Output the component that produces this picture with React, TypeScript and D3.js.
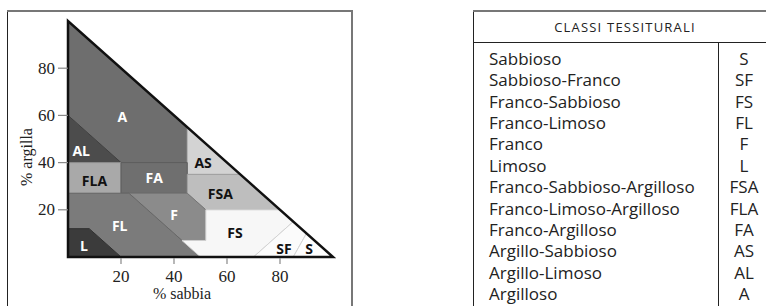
import React from 'react';
import * as d3 from 'd3';

// soil texture regions, vertices as [sand %, clay %]
const regionCodes = ['A', 'AL', 'AS', 'FLA', 'FA', 'FSA', 'F', 'FL', 'L', 'FS', 'SF', 'S'];
const regionPolygons: [number, number][][] = [
  [[0, 60], [20, 40], [45, 40], [45, 55], [0, 100]],
  [[0, 40], [20, 40], [0, 60]],
  [[45, 35], [45, 55], [65, 35]],
  [[0, 27], [20, 27], [20, 40], [0, 40]],
  [[20, 27], [45, 27], [45, 40], [20, 40]],
  [[45, 35], [65, 35], [80, 20], [52, 20], [45, 27]],
  [[23, 27], [45, 27], [52, 20], [52, 7], [43, 7]],
  [[0, 12], [8, 12], [20, 0], [50, 0], [23, 27], [0, 27]],
  [[0, 0], [20, 0], [8, 12], [0, 12]],
  [[50, 0], [70, 0], [85, 15], [80, 20], [52, 20], [52, 7], [43, 7]],
  [[70, 0], [85, 0], [90, 10], [85, 15]],
  [[85, 0], [100, 0], [90, 10]],
];
const regionFills = ['#6e6e6e', '#4c4c4c', '#d3d3d3', '#a9a9a9', '#6f6f6f', '#bebebe', '#8b8b8b', '#7b7b7b', '#3b3b3b', '#f7f7f7', '#fbfbfb', '#fefefe'];
const labelPositions: [number, number][] = [
  [20.5, 59.5], [5, 45], [51, 40], [10, 32.5], [32.5, 33.5], [57.5, 27],
  [40, 18], [19.5, 13.5], [6, 5], [63, 10.5], [81.5, 3.5], [91, 3.5],
];
const labelDark = [false, false, true, true, false, true, false, false, false, true, true, true];

const sandTicks = [20, 40, 60, 80];
const clayTicks = [20, 40, 60, 80];

// legend table
const classNames = [
  'Sabbioso', 'Sabbioso-Franco', 'Franco-Sabbioso', 'Franco-Limoso', 'Franco', 'Limoso',
  'Franco-Sabbioso-Argilloso', 'Franco-Limoso-Argilloso', 'Franco-Argilloso',
  'Argillo-Sabbioso', 'Argillo-Limoso', 'Argilloso',
];
const classCodes = ['S', 'SF', 'FS', 'FL', 'F', 'L', 'FSA', 'FLA', 'FA', 'AS', 'AL', 'A'];

const serif = '"Liberation Serif", serif';
const sans = '"Open Sans", sans-serif';

export default function App() {
  const width = 766;
  const height = 306;

  const x = d3.scaleLinear().domain([0, 100]).range([68, 333]);
  const y = d3.scaleLinear().domain([0, 100]).range([257, 21]);
  const line = d3.line<[number, number]>().x(d => x(d[0])).y(d => y(d[1]));

  const outline: [number, number][] = [[0, 100], [0, 0], [100, 0]];

  // row baselines of the legend table
  const rowY = d3.scalePoint<number>().domain(d3.range(classNames.length)).range([65, 300]);

  return (
    <svg width={width} height={height} style={{ position: 'absolute', left: 0, top: 0, background: '#fff' }}>
      {/* left frame */}
      <line x1={7.5} y1={10} x2={7.5} y2={height} stroke="#222" strokeWidth={1} />
      <line x1={352} y1={10} x2={352} y2={height} stroke="#777" strokeWidth={2} />
      <line x1={7} y1={11} x2={353} y2={11} stroke="#777" strokeWidth={2} />

      {regionPolygons.map((pts, i) => (
        <path key={regionCodes[i]} d={line(pts) + 'Z'} fill={regionFills[i]}
          stroke={d3.color(regionFills[i])!.darker(0.5).toString()} strokeWidth={1} strokeLinejoin="round" />
      ))}
      <path d={line(outline) + 'Z'} fill="none" stroke="#111" strokeWidth={2.5} strokeLinejoin="miter" />

      {regionCodes.map((c, i) => (
        <text key={c} x={x(labelPositions[i][0])} y={y(labelPositions[i][1])} textAnchor="middle"
          dominantBaseline="central" fontFamily={sans} fontWeight={700} fontSize={14}
          fill={labelDark[i] ? '#111' : '#fff'}>{c}</text>
      ))}

      {/* axes */}
      {sandTicks.map(t => (
        <g key={'sx' + t}>
          <line x1={x(t)} x2={x(t)} y1={258} y2={264} stroke="#888" strokeWidth={1.2} />
          <text x={x(t)} y={282} textAnchor="middle" fontFamily={serif} fontSize={17} fill="#222">{t}</text>
        </g>
      ))}
      {clayTicks.map(t => (
        <g key={'cy' + t}>
          <line x1={58} x2={68} y1={y(t)} y2={y(t)} stroke="#888" strokeWidth={1.2} />
          <text x={55} y={y(t)} textAnchor="end" dominantBaseline="central" fontFamily={serif} fontSize={17} fill="#222">{t}</text>
        </g>
      ))}
      <text x={182} y={299} textAnchor="middle" fontFamily={serif} fontSize={16} fill="#222">% sabbia</text>
      <text transform="translate(32,157) rotate(-90)" textAnchor="middle" fontFamily={serif} fontSize={16} fill="#222">% argilla</text>

      {/* legend table */}
      <line x1={473.5} y1={10} x2={473.5} y2={height} stroke="#222" strokeWidth={1} />
      <line x1={473} y1={11} x2={width} y2={11} stroke="#777" strokeWidth={2} />
      <line x1={473} y1={42.5} x2={width} y2={42.5} stroke="#222" strokeWidth={1} />
      <line x1={718.5} y1={43} x2={718.5} y2={height} stroke="#222" strokeWidth={1} />
      <text x={625} y={27} textAnchor="middle" dominantBaseline="central" fontFamily={sans} fontSize={13} letterSpacing={1.2} fill="#222">CLASSI TESSITURALI</text>
      {classNames.map((n, i) => (
        <g key={n}>
          <text x={489} y={rowY(i)!} fontFamily={sans} fontSize={17} fill="#222">{n}</text>
          <text x={744} y={rowY(i)!} textAnchor="middle" fontFamily={sans} fontSize={17} fill="#222">{classCodes[i]}</text>
        </g>
      ))}
    </svg>
  );
}
